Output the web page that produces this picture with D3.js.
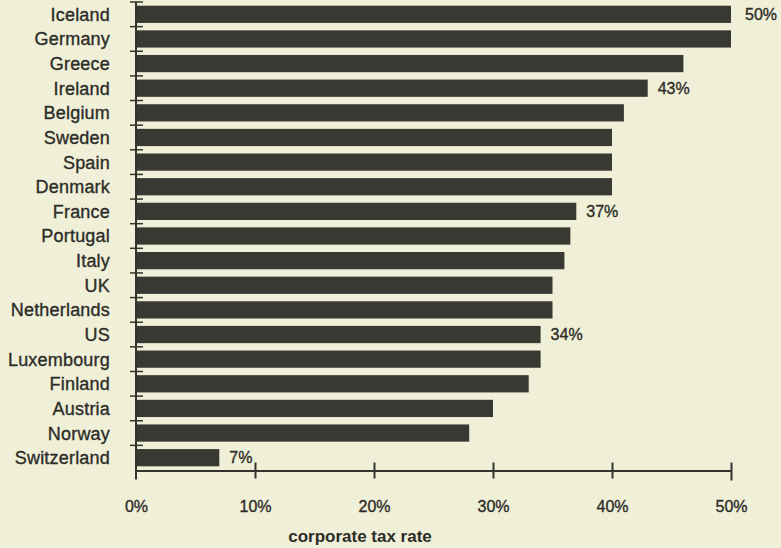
<!DOCTYPE html>
<html>
<head>
<meta charset="utf-8">
<script src="https://cdn.jsdelivr.net/npm/d3@7"></script>
<style>
  body { margin: 0; background: #f0efd7; }
  svg { display: block; }
  text { font-family: "Liberation Sans", Arial, sans-serif; fill: #2c2c28; stroke: #2c2c28; stroke-width: 0.35px; }
</style>
</head>
<body>
<div id="chart"></div>
<script>
// countries, top to bottom
var countries = ["Iceland", "Germany", "Greece", "Ireland", "Belgium", "Sweden", "Spain",
  "Denmark", "France", "Portugal", "Italy", "UK", "Netherlands", "US", "Luxembourg",
  "Finland", "Austria", "Norway", "Switzerland"];
// corporate tax rate, %
var rates = [50, 50, 46, 43, 41, 40, 40, 40, 37, 36.5, 36, 35, 35, 34, 34, 33, 30, 28, 7];
// which bars carry a value label
var labelled = ["Iceland", "Ireland", "France", "US", "Switzerland"];
var xTicks = [0, 10, 20, 30, 40, 50];

var w = 781, h = 548;
var ink = "#34342e";

var data = countries.map(function(c, i) { return {country: c, rate: rates[i]}; });

var svg = d3.select("#chart").append("svg")
  .attr("width", w)
  .attr("height", h);

var x = d3.scaleLinear().domain([0, 50]).range([136, 731]);
var y = d3.scaleBand().domain(countries).range([2, 470])
  .paddingInner(0.3).paddingOuter(0.15);

var axisY = 470.5;

// bars
svg.selectAll("rect.bar")
  .data(data)
  .enter()
  .append("rect")
  .attr("class", "bar")
  .attr("x", x(0))
  .attr("y", function(d) { return y(d.country); })
  .attr("width", function(d) { return x(d.rate) - x(0); })
  .attr("height", y.bandwidth())
  .attr("fill", "#393933");

// value labels
svg.selectAll("text.val")
  .data(data.filter(function(d) { return labelled.indexOf(d.country) >= 0; }))
  .enter()
  .append("text")
  .attr("class", "val")
  .attr("x", function(d) { return x(d.rate) + (d.rate == 50 ? 14 : 10); })
  .attr("y", function(d) { return y(d.country) + y.bandwidth() / 2; })
  .attr("dy", "0.35em")
  .style("font-size", "16px")
  .text(function(d) { return d.rate + "%"; });

// country labels
svg.selectAll("text.country")
  .data(countries)
  .enter()
  .append("text")
  .attr("class", "country")
  .attr("x", 110)
  .attr("y", function(d) { return y(d) + y.bandwidth() / 2; })
  .attr("dy", "0.36em")
  .attr("text-anchor", "end")
  .style("font-size", "18px")
  .style("letter-spacing", "0.2px")
  .text(function(d) { return d; });

// y axis line and row ticks
svg.append("line")
  .attr("x1", x(0)).attr("x2", x(0))
  .attr("y1", 2).attr("y2", axisY + 9)
  .attr("stroke", ink).attr("stroke-width", 2);

var step = y.step();
svg.selectAll("line.rowtick")
  .data(countries)
  .enter()
  .append("line")
  .attr("class", "rowtick")
  .attr("x1", x(0) - 6).attr("x2", x(0) + 7)
  .attr("y1", function(d) { return y(d) - step * 0.15; })
  .attr("y2", function(d) { return y(d) - step * 0.15; })
  .attr("stroke", ink).attr("stroke-width", 1.5);

// x axis
var xAxis = d3.axisBottom(x)
  .tickValues(xTicks)
  .tickSize(0)
  .tickPadding(30)
  .tickFormat(function(d) { return d + "%"; });

var gx = svg.append("g")
  .attr("transform", "translate(0," + axisY + ")")
  .call(xAxis);
gx.select(".domain").attr("stroke", ink).attr("stroke-width", 2);
gx.selectAll(".tick text")
  .style("font-size", "16px")
  .style("font-family", "'Liberation Sans', Arial, sans-serif")
  .attr("fill", "#2c2c28");
gx.selectAll(".tick")
  .filter(function(d) { return d > 0; })
  .append("line")
  .attr("y1", -8).attr("y2", function(d) { return d == 50 ? 10 : 8; })
  .attr("stroke", ink).attr("stroke-width", 2);

svg.append("text")
  .attr("x", 360)
  .attr("y", 542)
  .attr("text-anchor", "middle")
  .style("font-size", "17px")
  .style("font-weight", "bold")
  .style("stroke-width", "0px")
  .text("corporate tax rate");
</script>
</body>
</html>
